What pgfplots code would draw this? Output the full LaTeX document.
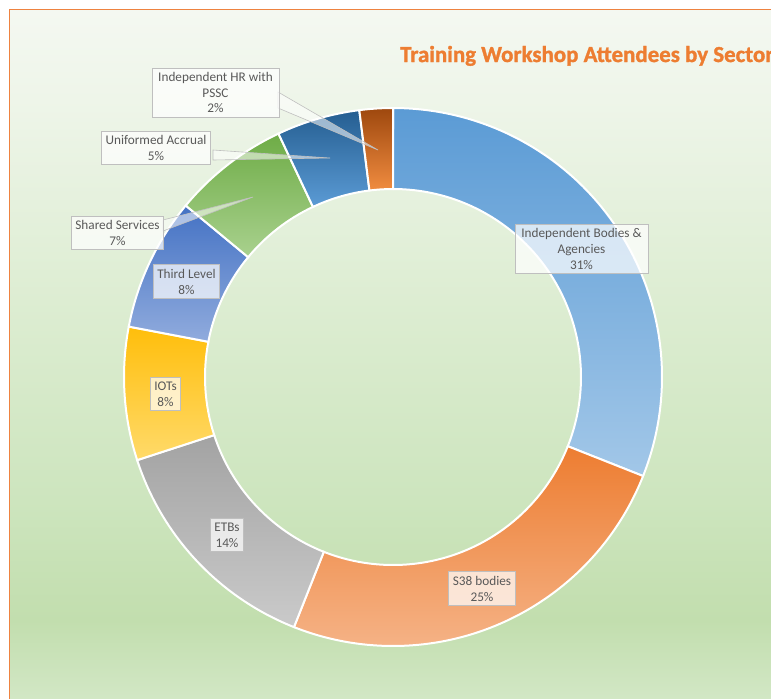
\documentclass[border=0pt]{standalone}
\usepackage{pgfplots}
\pgfplotsset{compat=1.18}
\usepackage{pgfplotstable}
\usepackage{fontspec}
\setmainfont{Carlito}
\newfontfamily\titlefont[FakeBold=1.3]{Carlito Bold}
% slice colours (top / bottom of each gradient)
\definecolor{s0t}{HTML}{5B9BD5}\definecolor{s0b}{HTML}{A2C7E8}
\definecolor{s1t}{HTML}{ED7D31}\definecolor{s1b}{HTML}{F5B387}
\definecolor{s2t}{HTML}{A3A3A3}\definecolor{s2b}{HTML}{CACACA}
\definecolor{s3t}{HTML}{FFBE0B}\definecolor{s3b}{HTML}{FFDA6A}
\definecolor{s4t}{HTML}{4472C4}\definecolor{s4b}{HTML}{90ABDD}
\definecolor{s5t}{HTML}{6EAC46}\definecolor{s5b}{HTML}{A9D18E}
\definecolor{s6t}{HTML}{255E91}\definecolor{s6b}{HTML}{5B9BD5}
\definecolor{s7t}{HTML}{9E480E}\definecolor{s7b}{HTML}{F08C40}
\definecolor{labgray}{HTML}{595959}
\definecolor{boxgray}{HTML}{BFBFBF}
\definecolor{ttl}{HTML}{ED7D31}
\definecolor{framecol}{HTML}{EE8240}
\definecolor{bgA}{HTML}{D2E7C5}
\definecolor{bgB}{HTML}{C2DEAE}
\definecolor{bgC}{HTML}{CDE5BE}
\definecolor{bgD}{HTML}{DDEDD2}
\definecolor{bgE}{HTML}{EEF5E9}
\definecolor{bgF}{HTML}{F4F8F1}
\pgfdeclareverticalshading{bgshade}{100bp}{color(0bp)=(bgA); color(25bp)=(bgA); color(30.7bp)=(bgB); color(39.4bp)=(bgC); color(54bp)=(bgD); color(68.5bp)=(bgE); color(75bp)=(bgF); color(100bp)=(bgF)}
\tikzset{
  lab/.style={draw=boxgray, line width=0.8bp, fill=white, fill opacity=0.72,
    text opacity=1, text=labgray, align=center,
    font=\fontsize{13.3}{16}\selectfont, inner xsep=4bp, inner ysep=4bp},
  lead/.style={fill=white, fill opacity=0.55, draw=boxgray, line width=0.6bp},
}

\pgfplotstableread{
sector share
IBA 31
S38 25
ETB 14
IOT 8
TL 8
SS 7
UA 5
HR 2
}\donutdata

\begin{document}
\begin{tikzpicture}
\path[use as bounding box] (0,0) rectangle (771bp,699bp);
\clip (0,0) rectangle (771bp,699bp);
\fill[white] (0,0) rectangle (771bp,699bp);
\begin{axis}[
  at={(0,0)}, anchor=south west,
  x=1bp, y=1bp,
  xmin=0, xmax=771, ymin=0, ymax=699,
  y dir=reverse,
  hide axis, clip=false,
]
% background and frame
\path[shading=bgshade] (axis cs:10,10) rectangle (axis cs:771,699);
\draw[draw=framecol, line width=1.8bp] (axis cs:9.5,720) -- (axis cs:9.5,9.5) -- (axis cs:800,9.5);
% donut slices from the table
\def\cum{0}
\pgfplotsforeachungrouped \i in {0,...,7}{%
  \pgfplotstablegetelem{\i}{share}\of\donutdata
  \pgfmathsetmacro\aA{90-3.6*\cum}%
  \pgfmathsetmacro\cum{\cum+\pgfplotsretval}%
  \pgfmathsetmacro\aB{90-3.6*\cum}%
  \pgfmathsetmacro\xo{393+269*cos(\aA)}%
  \pgfmathsetmacro\yo{377-269*sin(\aA)}%
  \pgfmathsetmacro\xin{393+188*cos(\aB)}%
  \pgfmathsetmacro\yin{377-188*sin(\aB)}%
  \edef\slice{\noexpand\path[draw=white,line width=2bp,top color=s\i t,bottom color=s\i b] (axis cs:\xo,\yo) arc[start angle=\aA,end angle=\aB,radius=269bp] -- (axis cs:\xin,\yin) arc[start angle=\aB,end angle=\aA,radius=188bp] -- cycle;}%
  \slice
}
% leader lines
\path[lead] (axis cs:278,92) -- (axis cs:378,150) -- (axis cs:278,108) -- cycle;
\path[lead] (axis cs:213,150) -- (axis cs:330,158) -- (axis cs:213,160) -- cycle;
\path[lead] (axis cs:163,220) -- (axis cs:253,197) -- (axis cs:163,231) -- cycle;
% data labels
\node[lab, minimum width=133bp] at (axis cs:581.5,249) {Independent Bodies \&\\Agencies\\31\%};
\node[lab] at (axis cs:482,588.5) {S38 bodies\\25\%};
\node[lab] at (axis cs:227,535) {ETBs\\14\%};
\node[lab] at (axis cs:165.5,394) {IOTs\\8\%};
\node[lab] at (axis cs:186.5,281.5) {Third Level\\8\%};
\node[lab] at (axis cs:117.5,233) {Shared Services\\7\%};
\node[lab] at (axis cs:156,148) {Uniformed Accrual\\5\%};
\node[lab, minimum width=127bp] at (axis cs:215.5,92.5) {Independent HR with\\PSSC\\2\%};
% title
\node[anchor=base west, inner sep=0pt, text=ttl, font=\fontsize{23}{28}\titlefont] at (axis cs:400,62) {Training Workshop Attendees by Sector};
\end{axis}
\end{tikzpicture}
\end{document}
